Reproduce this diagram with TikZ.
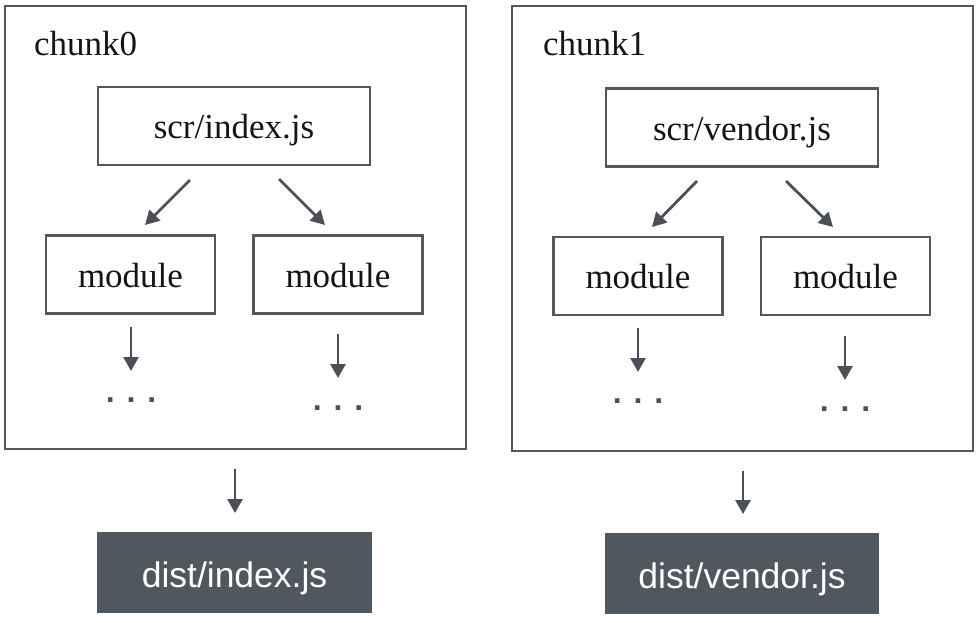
\documentclass[tikz,border=0pt]{standalone}
\usepackage{fontspec}
\setmainfont{Liberation Serif}
\newfontfamily\arialfont{Liberation Sans}
\usetikzlibrary{arrows.meta}
\definecolor{boxline}{HTML}{55575A}
\definecolor{arrcol}{HTML}{4B5058}
\definecolor{darkfill}{HTML}{51575F}
\definecolor{txt}{HTML}{141414}
\tikzset{
  chunkbox/.style={draw=boxline, line width=2.8pt},
  srcbox/.style={draw=boxline, line width=2.8pt, minimum width=272pt, minimum height=78pt, inner sep=0pt, text=txt, text height=25pt, text depth=0pt, font=\fontsize{35}{38}\selectfont},
  modbox/.style={draw=boxline, line width=2.8pt, minimum width=169pt, minimum height=78pt, inner sep=0pt, text=txt, text height=25pt, text depth=0pt, font=\fontsize{35}{38}\selectfont},
  distbox/.style={fill=darkfill, minimum width=275pt, minimum height=81pt, inner sep=0pt, text=white, text height=29pt, text depth=0pt, font=\arialfont\fontsize{35.5}{38}\selectfont},
  arr/.style={draw=arrcol, line width=2.8pt, -{Triangle[length=14pt,width=15pt]}},
  dotstext/.style={anchor=base, inner sep=0pt, text=arrcol, font=\arialfont\bfseries\fontsize{32}{36}\selectfont},
  lbl/.style={anchor=base west, inner sep=0pt, text=txt, font=\fontsize{35}{38}\selectfont}
}
\begin{document}
\begin{tikzpicture}[x=1pt,y=-1pt]
\useasboundingbox (0,0) rectangle (980,622);
% left chunk
\draw[chunkbox] (5,6) rectangle (466,449);
\node[lbl] (c0) at (34,55) {chunk0};
\node[srcbox] (src0) at (234,126) {scr/index.js};
\node[modbox] (m00) at (130.5,274.5) {module};
\node[modbox] (m01) at (338,274.5) {module};
\node[distbox] (dist0) at (234.5,572.5) {dist/index.js};
\node[dotstext] (d00) at (131,402) {. . .};
\node[dotstext] (d01) at (338,410) {. . .};
\coordinate (a00s) at (190,180); \coordinate (a00e) at (145,225);
\coordinate (a01s) at (279,179); \coordinate (a01e) at (325,225);
\coordinate (a02s) at (131,327); \coordinate (a02e) at (131,371);
\coordinate (a03s) at (338,334); \coordinate (a03e) at (338,378);
\coordinate (a04s) at (235,469); \coordinate (a04e) at (235,513);
\draw[arr] (a00s) -- (a00e);
\draw[arr] (a01s) -- (a01e);
\draw[arr] (a02s) -- (a02e);
\draw[arr] (a03s) -- (a03e);
\draw[arr] (a04s) -- (a04e);
% right chunk
\draw[chunkbox] (512,6) rectangle (973,451);
\node[lbl] (c1) at (543,55) {chunk1};
\node[srcbox] (src1) at (742,127.5) {scr/vendor.js};
\node[modbox] (m10) at (638,276) {module};
\node[modbox] (m11) at (845.5,276) {module};
\node[distbox, minimum width=274pt] (dist1) at (742,573.5) {dist/vendor.js};
\node[dotstext] (d10) at (638,403) {. . .};
\node[dotstext] (d11) at (845,411) {. . .};
\coordinate (a10s) at (697,181); \coordinate (a10e) at (652,227);
\coordinate (a11s) at (786,181); \coordinate (a11e) at (833,227);
\coordinate (a12s) at (638,328); \coordinate (a12e) at (638,372);
\coordinate (a13s) at (845,336); \coordinate (a13e) at (845,380);
\coordinate (a14s) at (743,471); \coordinate (a14e) at (743,514);
\draw[arr] (a10s) -- (a10e);
\draw[arr] (a11s) -- (a11e);
\draw[arr] (a12s) -- (a12e);
\draw[arr] (a13s) -- (a13e);
\draw[arr] (a14s) -- (a14e);
\end{tikzpicture}
\end{document}
